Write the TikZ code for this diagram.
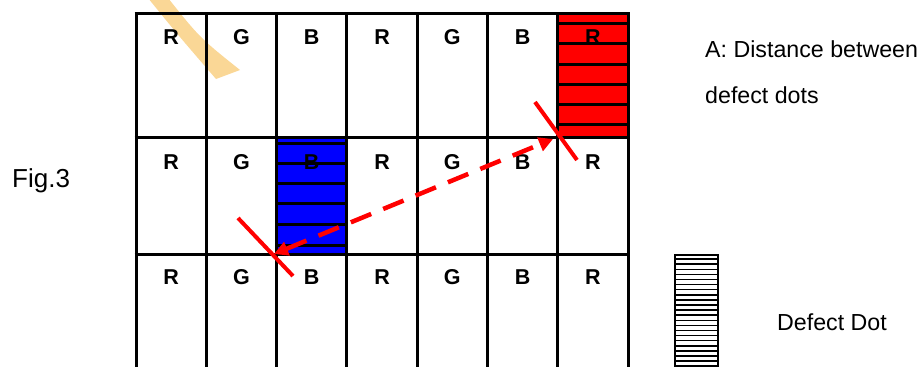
\documentclass[tikz,border=0pt]{standalone}
\usepackage{fontspec}
\setmainfont{Liberation Sans}
\usetikzlibrary{arrows.meta}
\definecolor{wm}{RGB}{250,215,150}
\definecolor{dotred}{RGB}{255,0,0}
\definecolor{dotblue}{RGB}{0,0,255}
\begin{document}
\begin{tikzpicture}[x=1pt,y=-1pt,
  gridline/.style={line width=3pt,black},
  lbl/.style={font=\fontsize{21.5}{24}\selectfont\bfseries,inner sep=0pt},
  txt/.style={font=\fontsize{23.2}{26}\selectfont,inner sep=0pt,anchor=base west},
  stripe/.style={line width=3pt,black},
  crossln/.style={dotred,line width=4pt},
  distarrow/.style={dotred,line width=4.5pt,dash pattern=on 22pt off 13pt,
    {Triangle[length=14pt,width=14pt]}-{Triangle[length=14pt,width=14pt]}}
]
\useasboundingbox (0,0) rectangle (922,367);
% watermark fragment
\fill[wm] (148,-2) .. controls (178,35) .. (216,79) -- (240,70)
  .. controls (200,38) .. (168,-2) -- cycle;
% defect cells
\fill[dotred] (558,13) rectangle (628,137);
\foreach \y in {23.3,43.5,64,84.3,104.3,124.3}
  \draw[stripe] (558,\y) -- (628,\y);
\fill[dotblue] (277,137) rectangle (347,254);
\foreach \y in {143.3,163.3,183.3,203.3,224.3,245}
  \draw[stripe] (277,\y) -- (347,\y);
% grid
\foreach \x in {136,206.3,276.6,346.9,417.1,487.4,557.7,628}
  \draw[gridline] (\x,13) -- (\x,370);
\foreach \y in {13,137,254}
  \draw[gridline] (134.5,\y) -- (629.5,\y);
% letters
\foreach \L [count=\c] in {R,G,B,R,G,B,R}{
  \foreach \y [count=\r] in {37,162,277}{
    \node[lbl] (l\r\c) at ({136+70.3*(\c-0.5)},\y) {\L};
  }
}
% distance arrow and cross marks
\coordinate (pA) at (274,254);
\coordinate (pB) at (553,139);
\coordinate (c1a) at (238,218);
\coordinate (c1b) at (293,276);
\coordinate (c2a) at (535,102);
\coordinate (c2b) at (577,160);
\draw[crossln] (c1a) -- (c1b);
\draw[crossln] (c2a) -- (c2b);
\draw[distarrow] (pA) -- (pB);
% legend
\node[draw,line width=2.4pt,minimum width=43pt,minimum height=130pt,
  anchor=north west,inner sep=0pt] (dd) at (674,254) {};
\foreach \y in {259.1,264.2,...,367}
  \draw[line width=1.5pt] (674,\y) -- (717,\y);
% texts
\node[txt] (ta) at (705,57) {A: Distance between};
\node[txt] (tb) at (705,103) {defect dots};
\node[txt] (tc) at (777,330) {Defect Dot};
\node[txt,font=\fontsize{26}{30}\selectfont] (tf) at (12,187) {Fig.3};
\end{tikzpicture}
\end{document}
